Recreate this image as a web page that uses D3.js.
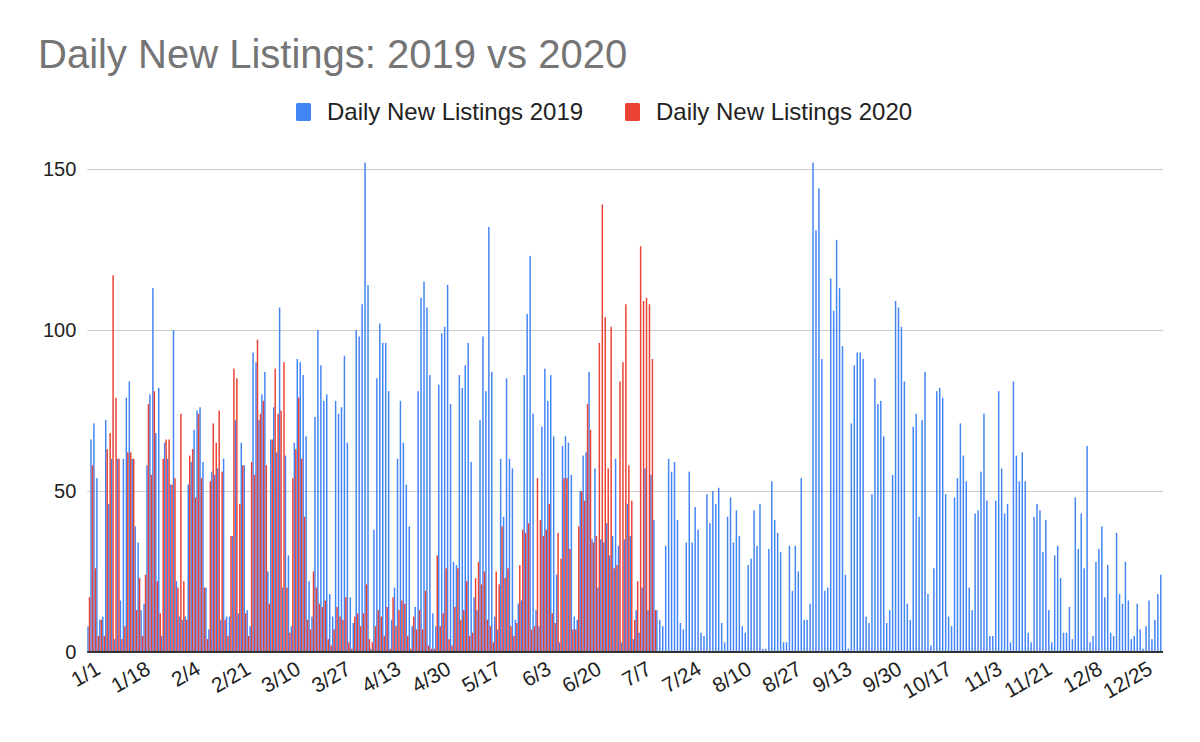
<!DOCTYPE html>
<html><head><meta charset="utf-8">
<script src="https://cdn.jsdelivr.net/npm/d3@7"></script>
<style>body{margin:0;background:#fff;} svg{display:block;}</style>
</head><body>
<svg id="chart" width="1200" height="742"></svg>
<script>
// ---- data ----
const seriesNames = ["Daily New Listings 2019", "Daily New Listings 2020"];
const blue2019 = [
8,66,71,54,10,11,72,46,60,4,60,16,60,79,84,60,39,34,13,15,58,80,113,68,82,5,65,60,52,100,22,11,10,
11,52,59,69,75,76,59,20,7,56,55,57,10,60,11,11,36,72,12,65,58,13,8,93,90,72,80,87,25,66,76,62,107,
20,61,30,8,65,91,90,86,67,22,11,73,100,89,78,80,18,11,78,74,76,92,65,17,9,100,98,108,152,114,1,38,85,102,
96,96,81,10,20,60,78,65,52,39,8,14,81,110,115,107,86,12,8,83,99,101,114,77,28,27,86,82,89,96,59,17,13,72,
98,81,132,87,11,7,60,42,85,60,57,10,15,16,86,105,123,74,13,8,70,88,78,86,67,24,3,64,67,65,55,11,10,
50,61,62,87,35,57,20,35,34,40,30,36,60,33,3,35,46,36,4,13,6,20,57,13,55,41,13,10,8,33,60,56,59,41,9,
7,34,56,34,45,38,6,5,49,40,50,46,51,9,3,42,48,34,44,36,8,6,27,29,44,33,46,1,1,32,53,41,37,31,
3,3,33,19,33,25,54,10,10,15,152,131,144,91,19,20,116,106,128,113,95,24,1,71,89,93,93,91,11,9,49,85,77,78,
67,9,13,55,109,107,101,84,15,10,70,74,42,72,87,18,2,26,81,82,79,49,11,8,48,54,71,61,53,20,13,43,44,
56,74,47,5,5,47,81,57,43,46,3,84,61,53,62,53,6,3,42,46,44,31,41,13,3,30,33,23,6,6,14,4,48,32,
43,26,64,3,5,28,32,39,17,27,6,5,37,18,15,28,16,4,5,15,7,1,8,16,4,10,18,24
];
const red2020 = [
17,58,26,5,10,5,63,68,117,79,60,4,8,62,62,60,13,23,5,24,77,55,81,22,12,60,66,66,52,54,20,74,22,
10,61,63,48,74,54,20,4,53,71,65,75,56,10,5,36,88,85,46,58,12,5,59,55,97,74,78,58,15,66,88,74,75,
90,20,6,54,63,79,60,42,10,7,25,20,15,14,16,4,2,7,14,11,10,17,3,1,11,12,8,12,21,4,3,8,13,11,
5,14,1,17,8,13,16,15,5,1,11,7,13,7,19,2,1,1,30,8,12,26,4,2,14,26,10,13,22,5,6,23,28,21,
25,10,8,3,25,21,39,23,26,8,5,9,27,38,37,40,7,8,54,41,36,38,46,12,9,37,29,54,54,32,7,7,39,
50,47,77,69,34,36,96,139,104,57,101,26,27,84,90,108,58,47,10,22,126,109,110,108,91,13
];
const xTickLabels = ["1/1","1/18","2/4","2/21","3/10","3/27","4/13","4/30","5/17","6/3","6/20","7/7","7/24","8/10","8/27","9/13","9/30","10/17","11/3","11/21","12/8","12/25"];
const xTickStep = 17;
const yTicks = [0, 50, 100, 150];

// ---- layout ----
(function draw() {
const svg = d3.select("#chart");
const pLeft = 87.3, pRight = 1163, pTop = 169, pBottom = 652;
const colors = ["#4285F4", "#EA4335"];
const font = "Arial, 'Liberation Sans', sans-serif";

const x = d3.scaleBand().domain(d3.range(blue2019.length)).range([pLeft, pRight]).padding(0);
const y = d3.scaleLinear().domain([0, 150]).range([pBottom, pTop]);
const bw = x.bandwidth() / 2;

// title
svg.append("text").attr("x", 38).attr("y", 68)
  .attr("font-family", font).attr("font-size", 40).attr("fill", "#757575")
  .text("Daily New Listings: 2019 vs 2020");

// legend
const legend = [{x: 296, tx: 327}, {x: 625, tx: 656}];
legend.forEach((l, i) => {
  svg.append("rect").attr("x", l.x).attr("y", 103).attr("width", 15).attr("height", 18)
    .attr("rx", 1.5).attr("fill", colors[i]);
  svg.append("text").attr("x", l.tx).attr("y", 120)
    .attr("font-family", font).attr("font-size", 24).attr("fill", "#222")
    .text(seriesNames[i]);
});

// y axis + gridlines
const yAxis = svg.append("g").attr("transform", `translate(${pLeft},0)`)
  .call(d3.axisLeft(y).tickValues(yTicks).tickSize(-(pRight - pLeft)).tickPadding(11));
yAxis.select(".domain").remove();
yAxis.selectAll(".tick line").attr("stroke", "#cccccc").attr("stroke-width", 1);
yAxis.selectAll(".tick text").attr("font-family", font).attr("font-size", 20).attr("fill", "#222");

// bars
svg.append("g").selectAll("rect").data(blue2019).join("rect")
  .attr("x", (d, i) => x(i)).attr("width", bw)
  .attr("y", d => y(d)).attr("height", d => y(0) - y(d))
  .attr("fill", colors[0]);
svg.append("g").selectAll("rect").data(red2020).join("rect")
  .attr("x", (d, i) => x(i) + bw).attr("width", bw)
  .attr("y", d => y(d)).attr("height", d => y(0) - y(d))
  .attr("fill", colors[1]);

// baseline
svg.append("line").attr("x1", pLeft).attr("x2", pRight).attr("y1", y(0)).attr("y2", y(0))
  .attr("stroke", "#333").attr("stroke-width", 2);

// x axis
const tickIdx = xTickLabels.map((_, i) => i * xTickStep);
const xAxis = svg.append("g").attr("transform", `translate(0,${pBottom})`)
  .call(d3.axisBottom(x).tickValues(tickIdx).tickSize(0).tickFormat((d, i) => xTickLabels[i]));
xAxis.select(".domain").remove();
xAxis.selectAll(".tick text")
  .attr("font-family", font).attr("font-size", 21).attr("fill", "#222")
  .attr("text-anchor", "end").attr("x", 0).attr("y", 0).attr("dy", 0)
  .attr("transform", "translate(13,21) rotate(-30)");
})();
</script>
</body></html>
